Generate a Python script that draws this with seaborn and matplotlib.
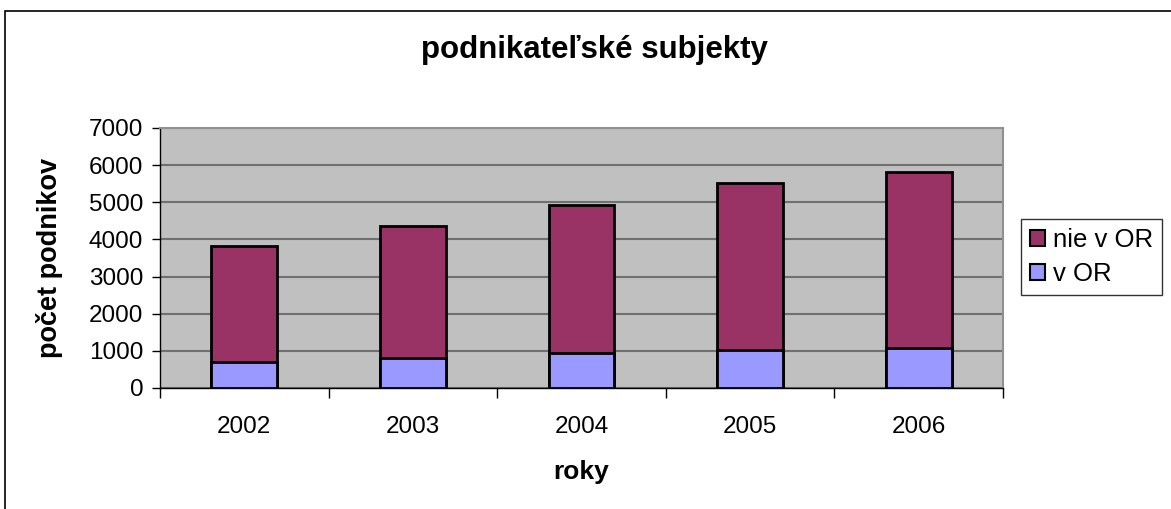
import matplotlib
matplotlib.use("Agg")
import matplotlib.pyplot as plt
import seaborn as sns
import pandas as pd
import numpy as np
from matplotlib.patches import Patch, Rectangle

years = ["2002", "2003", "2004", "2005", "2006"]
v_or = [700, 820, 930, 1035, 1070]
nie_v_or = [3130, 3530, 4000, 4490, 4735]
series_names = ["nie v OR", "v OR"]
y_ticks = [0, 1000, 2000, 3000, 4000, 5000, 6000, 7000]

sns.set_theme(style="white", rc={"text.color": "black", "axes.labelcolor": "black",
                                 "xtick.color": "black", "ytick.color": "black"})
plt.rcParams['font.family'] = ['Liberation Sans', 'DejaVu Sans']

totals = [a + b for a, b in zip(v_or, nie_v_or)]
df = pd.DataFrame({"rok": years, "v_or": v_or, "total": totals})

fig = plt.figure(figsize=(11.71, 5.09), dpi=100)
ax = fig.add_axes([160/1171, 1-388/509, (1003-160)/1171, (388-128)/509])
ax.set_facecolor("#C0C0C0")

purple = "#993366"
blue = "#9999FF"
sns.barplot(data=df, x="rok", y="total", color=purple, width=0.39,
            edgecolor="black", linewidth=2, saturation=1, ax=ax, zorder=3)
sns.barplot(data=df, x="rok", y="v_or", color=blue, width=0.39,
            edgecolor="black", linewidth=2, saturation=1, ax=ax, zorder=4)

ax.set_ylim(0, 7000)
ax.set_xlim(-0.5, 4.5)
ax.set_yticks(y_ticks)
ax.set_yticklabels([str(t) for t in y_ticks], fontsize=17.5)
ax.yaxis.grid(True, color="#707070", linewidth=1.5, zorder=1)
ax.set_axisbelow(True)

ax.set_xticks(range(len(years)))
ax.set_xticklabels(years, fontsize=17.5)
ax.tick_params(axis="x", which="major", length=0, pad=20)
ax.set_xticks(np.arange(-0.5, len(years)), minor=True)
ax.tick_params(axis="x", which="minor", length=7, width=1, color="black", direction="out", bottom=True)
ax.tick_params(axis="y", length=6, width=1, color="black", direction="out", left=True, pad=6)

for s in ["left", "bottom"]:
    ax.spines[s].set_color("black")
    ax.spines[s].set_linewidth(1)
for s in ["top", "right"]:
    ax.spines[s].set_color("#909090")
    ax.spines[s].set_linewidth(1.5)

ax.set_xlabel("roky", fontsize=19, fontweight="bold", labelpad=16)
ax.set_ylabel("počet podnikov", fontsize=19.5, fontweight="bold", labelpad=19)
fig.text(594/1171, 1-50/509, "podnikateľské subjekty",
         ha="center", va="center", fontsize=22.5, fontweight="bold")

handles = [Patch(facecolor=purple, edgecolor="black", linewidth=1.5),
           Patch(facecolor=blue, edgecolor="black", linewidth=1.5)]
leg = fig.legend(handles, series_names, loc="upper left",
                 bbox_to_anchor=(1021/1171, 1-219/509), fontsize=18.5,
                 frameon=True, fancybox=False, edgecolor="black",
                 handlelength=0.58, handleheight=0.58, handletextpad=0.3,
                 borderpad=0.35, labelspacing=0.4, borderaxespad=0)
leg.get_frame().set_linewidth(1)

fig.patches.append(Rectangle((5/1171, -0.1), 1.2, 1-11/509 + 0.1, transform=fig.transFigure,
                             fill=False, edgecolor="black", linewidth=1.2))

fig.savefig("out.png", dpi=100, facecolor="white")
